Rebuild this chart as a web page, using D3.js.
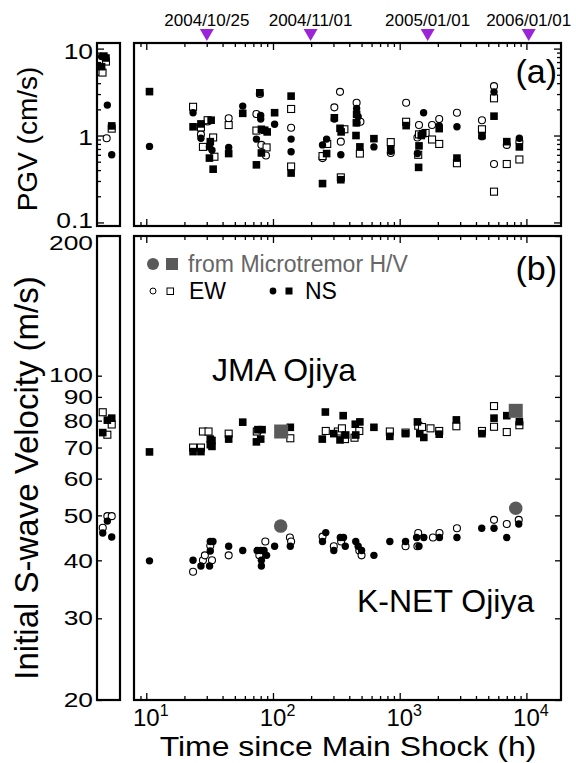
<!DOCTYPE html>
<html>
<head>
<meta charset="utf-8">
<script src="https://cdn.jsdelivr.net/npm/d3@7"></script>
<style>
  body { margin: 0; background: #fff; }
  text { font-family: "Liberation Sans", Arial, sans-serif; }
</style>
</head>
<body>
<div id="chart"></div>
<script>
// ---- data (hours since main shock, value) ----
const dateLabels = ["2004/10/25", "2004/11/01", "2005/01/01", "2006/01/01"];
const dateHours = [30.07, 198.07, 1662.07, 10422.07];

const xMajor = [10, 100, 1000, 10000];
const xMajorExp = ["1", "2", "3", "4"];
const pgvTickLabels = [0.1, 1, 10];
const vsTickLabels = [20, 30, 40, 50, 60, 70, 80, 90, 100, 200];

// (a) PGV, cm/s
const pgvJmaNS = [[10.6,3.2],[23.4,1.26],[27,1.36],[32.5,1.5],[32,0.85],[31.5,0.55],[33.7,0.41],[44.7,0.62],[57.7,1.8],[78.7,3.1],[81,1.18],[86,1.15],[90,1.1],[81,0.63],[74,0.46],[103,1.83],[139,2.84],[139,0.37],[246,0.28],[265,0.62],[305,1.6],[338,1.21],[345,1.1],[343,0.31],[457,1.75],[455,1.4],[452,1.0],[485,0.74],[626,0.92],[850,0.69],[1124,1.3],[1480,1.0],[1520,1.05],[1420,0.76],[1410,0.43],[2050,1.2],[2830,0.55],[4460,1.0],[5550,1.67],[7000,0.85],[8800,0.74]];
const pgvJmaEW = [[23.4,2.14],[27,1.24],[28,0.74],[30.5,1.5],[33.7,0.95],[34.5,0.57],[44.7,1.32],[74,1.14],[89,0.73],[139,2.02],[139,0.44],[246,0.58],[268,0.8],[366,1.18],[343,0.33],[485,0.62],[850,0.84],[1124,1.44],[1420,1.03],[1600,1.07],[1400,0.6],[1800,0.9],[2050,0.8],[2830,0.48],[4460,1.18],[5550,2.68],[5550,0.226],[7000,0.47],[8800,0.53]];
const pgvKnetNS = [[10.6,0.75],[23.4,1.83],[27,0.93],[31.5,0.74],[33,0.68],[44.7,0.73],[57.7,2.18],[80,1.7],[80,1.55],[74,0.91],[103,1.35],[139,0.91],[139,0.65],[246,0.78],[265,0.91],[305,1.55],[343,0.6],[457,2.05],[470,1.65],[460,1.4],[626,0.74],[850,0.66],[1544,1.83],[1380,0.62],[2050,1.3],[2830,1.26],[4460,0.97],[5550,3.18],[8800,0.93]];
const pgvKnetEW = [[27,1.03],[30.5,1.45],[44.7,1.58],[78.7,3.0],[74,1.77],[81,0.78],[88,0.59],[139,1.23],[246,0.55],[338,3.18],[305,2.11],[343,0.85],[457,2.38],[490,1.44],[850,0.63],[1124,2.38],[1420,1.32],[1380,0.95],[1800,1.32],[2050,1.55],[2830,1.83],[4460,1.5],[5550,3.7],[5550,0.47],[7000,0.78],[8800,0.85]];

// (a) early events in the left strip (relative position, value)
const pgvEarlyJmaNS = [[0.39,7.8],[0.2,6.2],[0.64,1.29],[0.3,8.2]];
const pgvEarlyJmaEW = [[0.39,7.1],[0.24,5.3],[0.64,1.2]];
const pgvEarlyKnetNS = [[0.2,8.1],[0.45,2.24],[0.64,0.6]];
const pgvEarlyKnetEW = [[0.42,0.93]];

// (b) initial S-wave velocity, m/s
const vsJmaNS = [[10.6,68.5],[23.4,68.6],[27,68.6],[32,73],[33,72.5],[32,71],[33,70.4],[44.7,73],[57.7,79.4],[76,76.5],[82,76.5],[80,73],[74,72],[137,77.4],[245,73],[259,83.5],[302,75],[358,82],[338,72.7],[375,74.5],[446,78.6],[450,74.5],[485,79.5],[626,77.4],[836,74],[1112,75],[1380,79.5],[1440,75],[1550,73.6],[2050,74.8],[2800,80.3],[4460,75],[5550,81],[7000,82],[8800,79.6]];
const vsJmaEW = [[23.4,70],[27,70],[28,75.8],[31,75.8],[44.7,75],[74.5,75.8],[137,73.3],[261,76],[325,75.8],[350,77],[370,73],[440,73.5],[480,76],[836,75.8],[1112,75.4],[1400,78],[1500,77.5],[1750,77],[2050,76],[2800,77.8],[4460,76],[5550,86],[5550,77.6],[7000,75.6],[8800,78.2]];
const vsKnetNS = [[10.6,39.9],[23.4,40],[27,38.9],[31.6,38.9],[32,43.9],[33.6,43.9],[32,41.9],[44.7,42.9],[57.7,42],[75,42],[80,42],[85,42],[81,40],[81,38.9],[89,41],[103,42.9],[137,42.9],[246,43.9],[261,45.9],[302,42],[340,44.8],[360,44.8],[372,42.9],[450,43.9],[470,42.9],[500,42],[626,41],[836,43.9],[1112,43.9],[1360,44.8],[1550,44.8],[1420,42.9],[2060,44.8],[2830,44.8],[4440,46.9],[5550,46.9],[7000,44.8],[8700,47.9]];
const vsKnetEW = [[23.4,37.8],[28,40],[29,41],[33,40],[32,43],[44.7,41],[78,41],[87,43.9],[136,44.8],[139,43.9],[246,45],[302,42.9],[345,43.9],[480,42],[500,41],[1112,42.9],[1380,42.9],[1400,45.8],[1830,44.8],[2060,45.8],[2830,46.9],[5550,48.9],[7000,47.9],[8700,48.9]];
const vsHvJma = [[116,75.8],[8240,84]];
const vsHvKnet = [[115,47.4],[8240,51.8]];

const vsEarlyJmaNS = [[0.25,75.4],[0.45,80.2],[0.64,81]];
const vsEarlyJmaEW = [[0.25,83.4],[0.45,74.6],[0.64,78.5]];
const vsEarlyKnetNS = [[0.25,45.8],[0.45,48.6],[0.64,44.9]];
const vsEarlyKnetEW = [[0.25,47],[0.45,49.8],[0.64,49.8]];

// ---- layout ----
const svg = d3.select("#chart").append("svg")
    .attr("width", 576)
    .attr("height", 763);

const x = d3.scaleLog().domain([8, 18750]).range([134, 561]);
const xn = d3.scaleLinear().domain([0, 1]).range([97, 120]);
const ya = d3.scaleLog().domain([0.091, 11.6]).range([226, 43]);
const yb = d3.scaleLog().domain([20, 200]).range([700, 236]);

const grey = "#5a5a5a";
const purple = "#9b24d8";

// x ticks (inward, top and bottom of both panels)
const xAll = x.ticks().filter(v => v > 8.01 && v < 18700);
const xMinor = xAll.filter(v => !xMajor.includes(v));

function xTicks(yPos, top) {
  const ax = top ? d3.axisTop : d3.axisBottom;
  [[xMinor, 4], [xMajor, 7]].forEach(([vals, len]) => {
    svg.append("g")
      .attr("transform", `translate(0,${yPos})`)
      .call(ax(x).tickValues(vals).tickSize(-len).tickFormat(""))
      .call(g => g.select(".domain").remove())
      .selectAll("line").attr("stroke", "#000").attr("stroke-width", 1.3);
  });
}
xTicks(43, true); xTicks(226, false);
xTicks(236, true); xTicks(700, false);

// y ticks panel (a)
const yaAll = ya.ticks().filter(v => v >= 0.1 && v <= 10);
const yaMinor = yaAll.filter(v => !pgvTickLabels.includes(v));
[[yaMinor, 4], [pgvTickLabels, 7]].forEach(([vals, len]) => {
  svg.append("g").attr("transform", "translate(97,0)")
    .call(d3.axisLeft(ya).tickValues(vals).tickSize(-len).tickFormat(""))
    .call(g => g.select(".domain").remove())
    .selectAll("line").attr("stroke", "#000").attr("stroke-width", 1.3);
  svg.append("g").attr("transform", "translate(561,0)")
    .call(d3.axisRight(ya).tickValues(vals).tickSize(-len).tickFormat(""))
    .call(g => g.select(".domain").remove())
    .selectAll("line").attr("stroke", "#000").attr("stroke-width", 1.3);
});

// y ticks panel (b)
svg.append("g").attr("transform", "translate(97,0)")
  .call(d3.axisLeft(yb).tickValues(vsTickLabels).tickSize(-5).tickFormat(""))
  .call(g => g.select(".domain").remove())
  .selectAll("line").attr("stroke", "#000").attr("stroke-width", 1.3);
svg.append("g").attr("transform", "translate(561,0)")
  .call(d3.axisRight(yb).tickValues(vsTickLabels).tickSize(-6).tickFormat(""))
  .call(g => g.select(".domain").remove())
  .selectAll("line").attr("stroke", "#000").attr("stroke-width", 1.3);

// frames
[[97, 43, 23, 183], [134, 43, 427, 183], [97, 236, 23, 464], [134, 236, 427, 464]]
  .forEach(([fx, fy, fw, fh]) => {
    svg.append("rect").attr("x", fx).attr("y", fy).attr("width", fw).attr("height", fh)
      .attr("fill", "none").attr("stroke", "#000").attr("stroke-width", 2.2);
  });

// tick labels (the figure's digits are wider than Arial, so stretch them)
// end labels nudged off the panel corners, as in the figure
svg.append("g").selectAll("text")
  .data(pgvTickLabels).join("text")
  .attr("transform", d => `translate(93,${d === 0.1 ? ya(d) - 2 : ya(d) + 2}) scale(1.2,1)`)
  .attr("dy", "0.36em")
  .attr("text-anchor", "end").attr("font-size", 22)
  .text(d => d);

const vsNudge = {200: 7, 100: -1};
svg.append("g").selectAll("text")
  .data(vsTickLabels).join("text")
  .attr("transform", d => `translate(93,${yb(d) + (vsNudge[d] || 0)}) scale(1.32,1)`)
  .attr("dy", "0.36em")
  .attr("text-anchor", "end").attr("font-size", 20)
  .text(d => d);

const xl = svg.append("g").selectAll("text")
  .data(xMajor).join("text")
  .attr("x", d => x(d) - 13.3).attr("y", 726)
  .attr("font-size", 24);
xl.append("tspan").text("10");
xl.append("tspan").attr("dy", -10).attr("font-size", 16).text((d, i) => xMajorExp[i]);

// axis titles
svg.append("text")
  .attr("transform", "translate(37,139) rotate(-90)")
  .attr("text-anchor", "middle").attr("font-size", 28)
  .text("PGV (cm/s)");
svg.append("text")
  .attr("transform", "translate(38,478) rotate(-90)")
  .attr("text-anchor", "middle").attr("font-size", 33)
  .text("Initial S-wave Velocity (m/s)");
svg.append("text")
  .attr("transform", "translate(348,756) scale(1.14,1)")
  .attr("text-anchor", "middle").attr("font-size", 28)
  .text("Time since Main Shock (h)");

// date markers
svg.append("g").selectAll("path")
  .data(dateHours).join("path")
  .attr("d", d => `M${x(d) - 7},29 L${x(d) + 7},29 L${x(d)},41 Z`)
  .attr("fill", purple);
svg.append("g").selectAll("text")
  .data(dateLabels).join("text")
  .attr("x", (d, i) => x(dateHours[i])).attr("y", 26)
  .attr("text-anchor", "middle").attr("font-size", 17)
  .text(d => d);

// panel labels
svg.append("text").attr("x", 557).attr("y", 83).attr("text-anchor", "end")
  .attr("font-size", 34).text("(a)");
svg.append("text").attr("x", 557).attr("y", 280).attr("text-anchor", "end")
  .attr("font-size", 34).text("(b)");
svg.append("text").attr("x", 212).attr("y", 381).attr("font-size", 32).text("JMA Ojiya");
svg.append("text").attr("x", 357).attr("y", 612).attr("font-size", 32).text("K-NET Ojiya");

// markers
function drawPoints(data, xs, ys, shape, filled, size, color) {
  const g = svg.append("g");
  const fill = filled ? (color || "#000") : "#fff";
  if (shape === "circle") {
    g.selectAll("circle").data(data).join("circle")
      .attr("cx", d => xs(d[0])).attr("cy", d => ys(d[1]))
      .attr("r", size / 2)
      .attr("fill", fill)
      .attr("stroke", filled ? "none" : "#000").attr("stroke-width", 1.1);
  } else {
    g.selectAll("rect").data(data).join("rect")
      .attr("x", d => xs(d[0]) - size / 2).attr("y", d => ys(d[1]) - size / 2)
      .attr("width", size).attr("height", size)
      .attr("fill", fill)
      .attr("stroke", filled ? "none" : "#000").attr("stroke-width", 1.1);
  }
}

// panel (a)
drawPoints(pgvKnetEW, x, ya, "circle", false, 7);
drawPoints(pgvJmaEW, x, ya, "square", false, 7);
drawPoints(pgvKnetNS, x, ya, "circle", true, 7.4);
drawPoints(pgvJmaNS, x, ya, "square", true, 7.6);
drawPoints(pgvEarlyKnetEW, xn, ya, "circle", false, 7);
drawPoints(pgvEarlyJmaEW, xn, ya, "square", false, 7);
drawPoints(pgvEarlyKnetNS, xn, ya, "circle", true, 7.4);
drawPoints(pgvEarlyJmaNS, xn, ya, "square", true, 7.6);

// panel (b)
drawPoints(vsKnetEW, x, yb, "circle", false, 7);
drawPoints(vsJmaEW, x, yb, "square", false, 7);
drawPoints(vsKnetNS, x, yb, "circle", true, 7.4);
drawPoints(vsJmaNS, x, yb, "square", true, 7.6);
drawPoints(vsEarlyKnetEW, xn, yb, "circle", false, 7);
drawPoints(vsEarlyJmaEW, xn, yb, "square", false, 7);
drawPoints(vsEarlyKnetNS, xn, yb, "circle", true, 7.4);
drawPoints(vsEarlyJmaNS, xn, yb, "square", true, 7.6);
drawPoints(vsHvKnet, x, yb, "circle", true, 13.5, grey);
drawPoints(vsHvJma, x, yb, "square", true, 14, grey);

// legend
const lg = svg.append("g");
lg.append("circle").attr("cx", 153).attr("cy", 264).attr("r", 6).attr("fill", grey);
lg.append("rect").attr("x", 166).attr("y", 258).attr("width", 12).attr("height", 12).attr("fill", grey);
lg.append("text").attr("x", 188).attr("y", 272).attr("font-size", 23).attr("fill", "#666")
  .text("from Microtremor H/V");
lg.append("circle").attr("cx", 153).attr("cy", 291).attr("r", 3)
  .attr("fill", "#fff").attr("stroke", "#000").attr("stroke-width", 1);
lg.append("rect").attr("x", 167).attr("y", 288).attr("width", 6.5).attr("height", 6.5)
  .attr("fill", "#fff").attr("stroke", "#000").attr("stroke-width", 1);
lg.append("text").attr("x", 189).attr("y", 299).attr("font-size", 23).text("EW");
lg.append("circle").attr("cx", 273).attr("cy", 291).attr("r", 3.4).attr("fill", "#000");
lg.append("rect").attr("x", 285.5).attr("y", 287.5).attr("width", 7).attr("height", 7).attr("fill", "#000");
lg.append("text").attr("x", 305).attr("y", 299).attr("font-size", 23).text("NS");
</script>
</body>
</html>
